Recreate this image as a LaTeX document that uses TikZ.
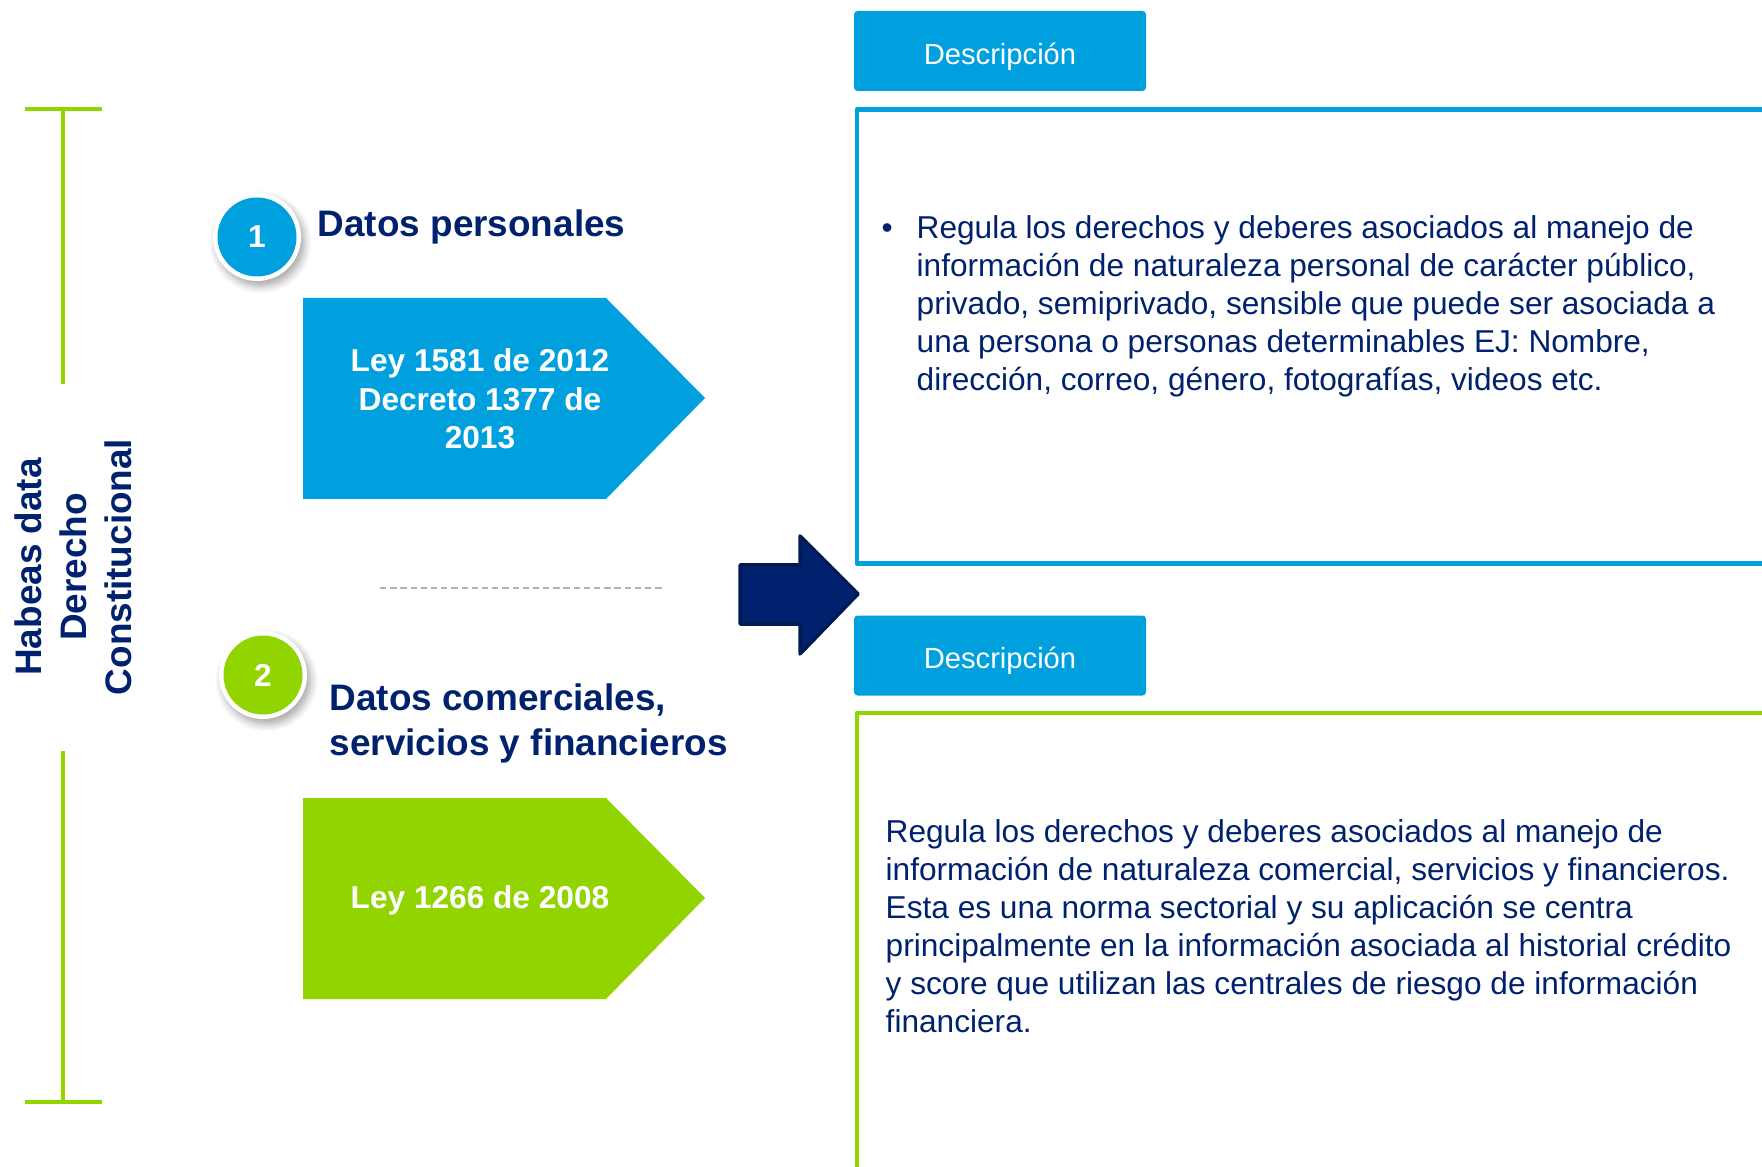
\documentclass[tikz,border=0pt]{standalone}
\usepackage{fontspec}
\setmainfont{Liberation Sans}
\usetikzlibrary{shadows.blur}
\definecolor{azul}{RGB}{0,160,222}
\definecolor{verde}{RGB}{146,212,0}
\definecolor{marino}{RGB}{0,34,110}
\definecolor{marinoosc}{RGB}{0,26,84}
\begin{document}
\begin{tikzpicture}[line join=round, font=\fontsize{9}{10.8}\selectfont,
	titulo/.style={font=\fontsize{10.5}{12.6}\selectfont\bfseries, text=marino, align=left, inner sep=0},
	texto/.style={text=marino, align=left, inner sep=0},
	ley/.style={font=\fontsize{9}{10.9}\selectfont\bfseries, text=white, align=center, inner sep=0},
	desc/.style={fill=azul, text=white, minimum width=2.92cm, minimum height=.8cm, text height=7.6pt, text depth=0pt, rounded corners=1pt, font=\fontsize{8.3}{10}\selectfont},
	aro/.style={circle, fill=white, minimum size=.88cm, inner sep=0, blur shadow={shadow xshift=1pt, shadow yshift=-1.5pt, shadow opacity=35, shadow blur steps=6}},
	num/.style={circle, minimum size=.79cm, inner sep=0, text=white, font=\fontsize{9}{10}\selectfont\bfseries}]
	\def\xmax{17.62} \def\ymax{11.66}
	\useasboundingbox (0,0) rectangle (\xmax,\ymax);
	\clip (0,0) rectangle (\xmax,\ymax);
	% corchete y titulo vertical
	\draw[verde, line width=1pt] (.25,10.57)--(1.02,10.57) (.63,10.57)--(.63,7.82) (.63,4.15)--(.63,.64) (.25,.64)--(1.02,.64);
	\node[titulo, rotate=90, align=center, font=\fontsize{10.5}{12.8}\selectfont\bfseries] (hd) at (.73,5.99) {Habeas data\\Derecho\\Constitucional};
	% datos personales
	\node[aro] (a1) at (2.57,9.29) {};
	\node[num, fill=azul] (n1) at (a1) {1};
	\node[titulo, anchor=base west] (t1) at (3.17,9.29) {Datos personales};
	\fill[azul] (3.03,8.68)--(6.06,8.68)--(7.05,7.68)--(6.06,6.67)--(3.03,6.67)--cycle;
	\node[ley] (l1) at (4.80,7.67) {Ley 1581 de 2012\\Decreto 1377 de\\2013};
	\draw[gray!60, dash pattern=on 1.8pt off 1.1pt] (3.80,5.78)--(6.65,5.78);
	% datos comerciales
	\node[aro] (a2) at (2.63,4.91) {};
	\node[num, fill=verde] (n2) at (a2) {2};
	\node[titulo, anchor=west, font=\fontsize{10.5}{12.8}\selectfont\bfseries] (t2) at (3.29,4.43) {Datos comerciales,\\servicios y financieros};
	\fill[verde] (3.03,3.68)--(6.06,3.68)--(7.05,2.68)--(6.06,1.67)--(3.03,1.67)--cycle;
	\node[ley] (l2) at (4.80,2.66) {Ley 1266 de 2008};
	% flecha
	\filldraw[fill=marino, draw=marinoosc, line width=1pt] (7.40,6.01)--(8.00,6.01)--(8.00,6.30)--(8.58,5.72)--(8.00,5.12)--(8.00,5.42)--(7.40,5.42)--cycle;
	% descripciones
	\node[desc] (d1) at (10.00,11.15) {Descripción};
	\draw[azul, line width=1.4pt] (17.9,10.565)--(8.57,10.565)--(8.57,6.025)--(17.9,6.025);
	\node[texto, anchor=west] (x1) at (9.16,8.60) {\llap{\textbullet\hspace{.24cm}}Regula los derechos y deberes asociados al manejo de\\información de naturaleza personal de carácter público,\\privado, semiprivado, sensible que puede ser asociada a\\una persona o personas determinables EJ: Nombre,\\dirección, correo, género, fotografías, videos etc.};
	\node[desc] (d2) at (10.00,5.105) {Descripción};
	\draw[verde, line width=1.4pt] (17.9,4.53)--(8.57,4.53)--(8.57,-.2);
	\node[texto, anchor=west] (x2) at (8.85,2.40) {Regula los derechos y deberes asociados al manejo de\\información de naturaleza comercial, servicios y financieros.\\Esta es una norma sectorial y su aplicación se centra\\principalmente en la información asociada al historial crédito\\y score que utilizan las centrales de riesgo de información\\financiera.};
\end{tikzpicture}
\end{document}
